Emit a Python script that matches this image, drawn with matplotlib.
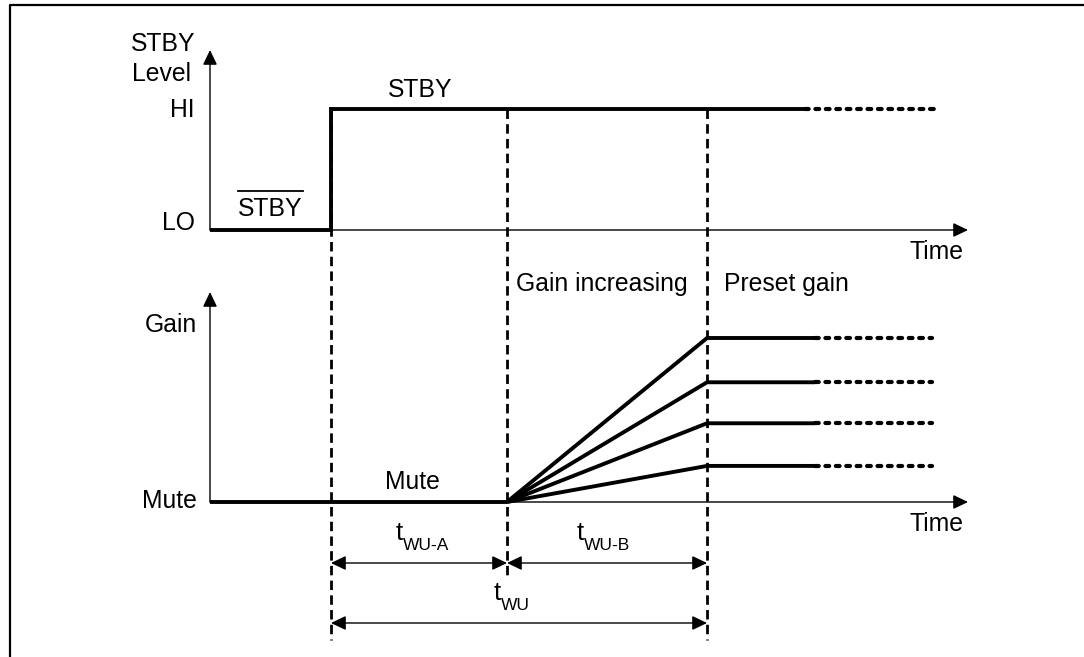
import numpy as np
import matplotlib
matplotlib.use("Agg")
import matplotlib.pyplot as plt

plt.rcParams["font.family"] = ["Liberation Sans", "DejaVu Sans"]

# event times on the time axis (diagram units, 0 = axis origin)
t_stby_on = 12.1        # STBY rising edge
t_wu_a_end = 29.7       # end of tWU-A, gain starts rising
t_wu_b_end = 49.7       # end of tWU-B, preset gain reached
t_top_solid_end = 59.5
t_top_dot_end = 73.0
t_gain_solid_end = 60.5
t_gain_dot_end = 72.2
t_axis_end = 75.8

stby_lo, stby_hi = 0, 1
preset_gains = [0.22, 0.48, 0.73, 1.0]

# mapping of the diagram units onto the picture
X0, SX = 210, 10
TOP_LO, TOP_HI = 230, 109
BOT_MUTE, BOT_FULL = 502, 338


def px(t):
    return X0 + SX * np.asarray(t, dtype=float)


def ytop(v):
    return TOP_LO + (TOP_HI - TOP_LO) * np.asarray(v, dtype=float)


def ybot(g):
    return BOT_MUTE + (BOT_FULL - BOT_MUTE) * np.asarray(g, dtype=float)


fig = plt.figure(figsize=(10.84, 6.57), dpi=100)
ax = fig.add_axes([0, 0, 1, 1])
ax.set_xlim(0, 1084)
ax.set_ylim(657, 0)
ax.axis("off")

FS = 17.8
thick = dict(color="black", lw=2.8, solid_capstyle="butt", solid_joinstyle="miter")
dots = dict(color="black", lw=3.0, linestyle=(0, (0.9, 1.6)), dash_capstyle="round")
vdash = dict(color="black", lw=2.0, linestyle=(0, (3.4, 1.9)))


def arrow(x1, y1, x2, y2, style="-|>"):
    ax.annotate("", xy=(x2, y2), xytext=(x1, y1),
                arrowprops=dict(arrowstyle=style + ",head_length=0.5,head_width=0.24",
                                lw=1.0, color="black", mutation_scale=18,
                                shrinkA=0, shrinkB=0))


# frame
ax.plot([10, 10, 1084], [657, 5, 5], color="black", lw=1.6)

# axes
arrow(X0, TOP_LO, X0, 50)
arrow(X0, TOP_LO, px(t_axis_end), TOP_LO)
arrow(X0, BOT_MUTE, X0, 292)
arrow(X0, BOT_MUTE, px(t_axis_end), BOT_MUTE)

# STBY signal
ax.plot(px([0, t_stby_on, t_stby_on, t_top_solid_end]),
        ytop([stby_lo, stby_lo, stby_hi, stby_hi]), **thick)
ax.plot(px([t_top_solid_end, t_top_dot_end]), ytop([stby_hi, stby_hi]), **dots)

# gain signal
ax.plot(px([0, t_wu_a_end]), ybot([0, 0]), **thick)
for g in preset_gains:
    ax.plot(px([t_wu_a_end, t_wu_b_end, t_gain_solid_end]), ybot([0, g, g]), **thick)
    ax.plot(px([t_gain_solid_end, t_gain_dot_end]), ybot([g, g]), **dots)

# dashed markers
ax.plot(px([t_stby_on, t_stby_on]), [ytop(stby_hi), 640], **vdash)
ax.plot(px([t_wu_a_end, t_wu_a_end]), [ytop(stby_hi), 580], **vdash)
ax.plot(px([t_wu_b_end, t_wu_b_end]), [ytop(stby_hi), 640], **vdash)

# durations
arrow(px(t_stby_on), 563, px(t_wu_a_end), 563, "<|-|>")
arrow(px(t_wu_a_end), 563, px(t_wu_b_end), 563, "<|-|>")
arrow(px(t_stby_on), 623, px(t_wu_b_end), 623, "<|-|>")


def tlabel(x, y, sub):
    ax.text(x, y, "t", fontsize=18.5, ha="right", va="baseline")
    ax.text(x, y + 10, sub, fontsize=12.5, ha="left", va="baseline")


tlabel(403, 540, "WU-A")
tlabel(584, 540, "WU-B")
tlabel(501, 600, "WU")

# texts
ax.text(163, 44, "STBY", fontsize=FS, ha="center", va="center")
ax.text(162, 74, "Level", fontsize=FS, ha="center", va="center")
ax.text(195, ytop(stby_hi) + 1, "HI", fontsize=FS, ha="right", va="center")
ax.text(195, 230, "LO", fontsize=FS, ha="right", va="baseline")
ax.text(270, 216, "STBY", fontsize=FS, ha="center", va="baseline")
ax.plot([238, 303], [191, 191], color="black", lw=1.3)
ax.text(420, 97, "STBY", fontsize=FS, ha="center", va="baseline")
ax.text(964, 259, "Time", fontsize=FS, ha="right", va="baseline")
ax.text(964, 531, "Time", fontsize=FS, ha="right", va="baseline")
ax.text(516, 291, "Gain increasing", fontsize=FS, ha="left", va="baseline")
ax.text(724, 291, "Preset gain", fontsize=FS, ha="left", va="baseline")
ax.text(197, 332, "Gain", fontsize=FS, ha="right", va="baseline")
ax.text(197, 508, "Mute", fontsize=FS, ha="right", va="baseline")
ax.text(412, 489, "Mute", fontsize=FS, ha="center", va="baseline")

fig.savefig("out.png", dpi=100)
